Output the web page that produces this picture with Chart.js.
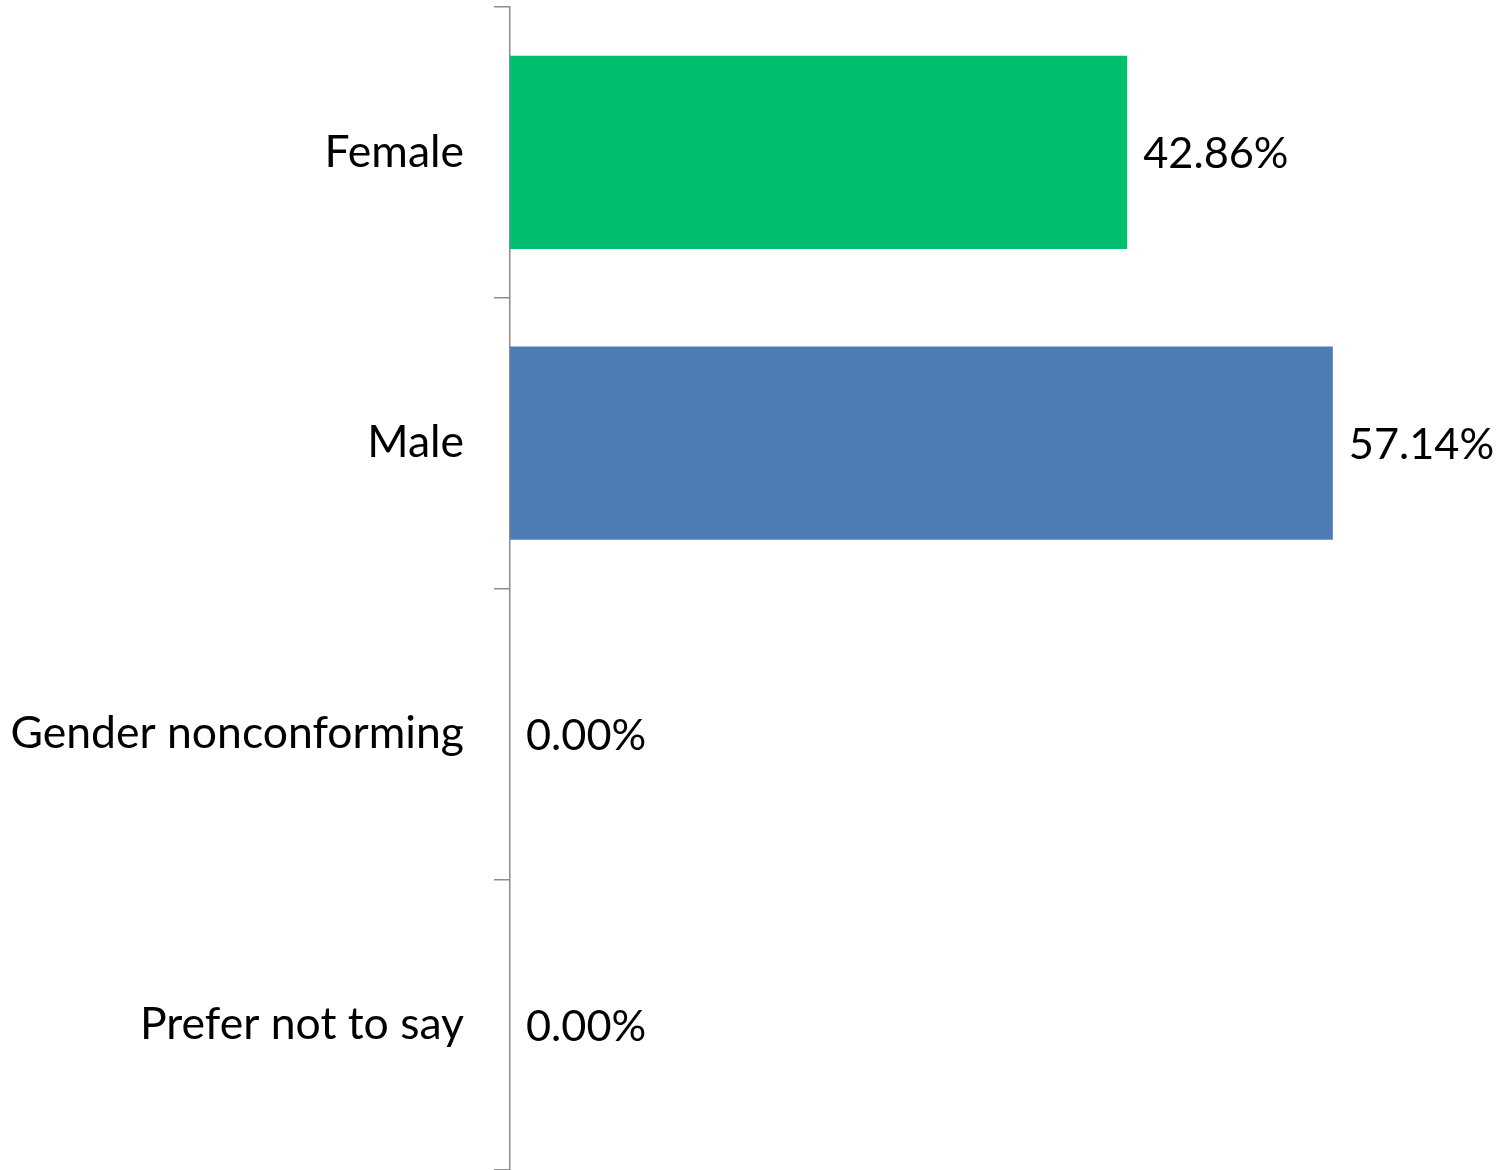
<!DOCTYPE html>
<html>
<head>
<meta charset="utf-8">
<script src="https://cdn.jsdelivr.net/npm/chart.js@4"></script>
<style>
  html, body { margin: 0; padding: 0; background: #fff; }
  #wrap { width: 1509px; height: 1170px; position: relative; }
</style>
</head>
<body>
<div id="wrap"><canvas id="c" width="1509" height="1170"></canvas></div>
<script>
const categories = ["Female", "Male", "Gender nonconforming", "Prefer not to say"];
const values = [42.86, 57.14, 0.00, 0.00];
const barColors = ["#00BF6F", "#4F7CB4", "#00BF6F", "#4F7CB4"];

const FONT = "Lato";
const FSIZE = 44.5;
const VSIZE = 43.3;

const valueLabels = {
  id: 'valueLabels',
  afterDatasetsDraw(chart) {
    const ctx = chart.ctx;
    const meta = chart.getDatasetMeta(0);
    ctx.save();
    ctx.font = VSIZE + "px " + FONT;
    ctx.fillStyle = "#000";
    ctx.textAlign = "left";
    ctx.textBaseline = "middle";
    meta.data.forEach((bar, i) => {
      ctx.fillText(values[i].toFixed(2) + "%", bar.x + 16, bar.y + 2);
    });
    ctx.restore();
  }
};

new Chart(document.getElementById('c'), {
  type: 'bar',
  data: {
    labels: categories,
    datasets: [{
      data: values,
      backgroundColor: barColors,
      borderWidth: 0,
      categoryPercentage: 1,
      barPercentage: 0.664
    }]
  },
  options: {
    indexAxis: 'y',
    responsive: false,
    animation: false,
    layout: { padding: { top: 7, right: 135, bottom: 0, left: 0 } },
    plugins: { legend: { display: false }, tooltip: { enabled: false } },
    scales: {
      x: {
        display: false,
        min: 0,
        max: 60
      },
      y: {
        afterFit(scale) { scale.width = 510; scale.paddingTop = 0; scale.paddingBottom = 0; },
        border: { display: true, color: "#8c8c8c", width: 1.5 },
        grid: { display: true, drawOnChartArea: false, drawTicks: true, tickLength: 16, color: "#8c8c8c", lineWidth: 1.5, offset: true },
        ticks: { color: "#000", font: { family: FONT, size: FSIZE }, padding: 30 }
      }
    }
  },
  plugins: [valueLabels]
});
</script>
</body>
</html>
